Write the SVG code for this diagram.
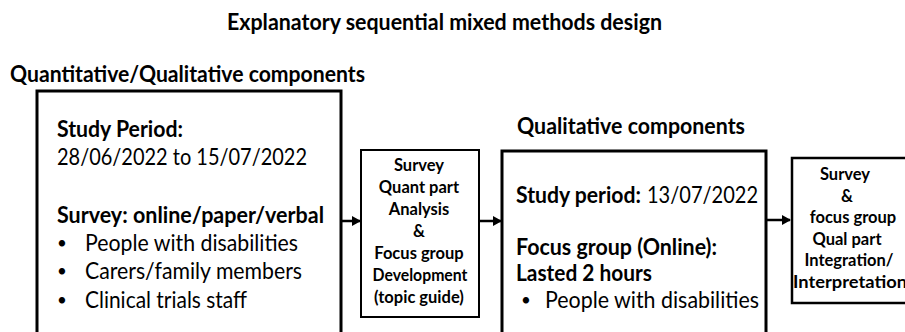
<svg xmlns="http://www.w3.org/2000/svg" width="905" height="332" viewBox="0 0 905 332">
<style>
text{font-family:Lato,"Open Sans","Liberation Sans",sans-serif;fill:#000}
.h{font-weight:bold;font-size:23px}
.b{font-size:23px}
.bb{font-size:23px;font-weight:bold}
.dot{font-size:17px}
.s{font-size:16.5px;font-weight:bold;text-anchor:middle}
.box{fill:#fff;stroke:#000}
.con{stroke:#000;stroke-width:2.5;fill:none}
</style>
<defs>
<marker id="ah" markerWidth="10" markerHeight="10" refX="8" refY="5" orient="auto" markerUnits="userSpaceOnUse">
<path d="M0,0 L9,5 L0,10 Z" fill="#000"/>
</marker>
</defs>
<rect width="905" height="332" fill="#fff"/>
<text class="h" x="227" y="30" textLength="435" lengthAdjust="spacingAndGlyphs">Explanatory sequential mixed methods design</text>
<text class="h" x="10" y="82" textLength="355" lengthAdjust="spacingAndGlyphs">Quantitative/Qualitative components</text>
<text class="h" x="517" y="134" textLength="228" lengthAdjust="spacingAndGlyphs">Qualitative components</text>

<g id="quant">
<rect class="box" x="37" y="91" width="304" height="260" stroke-width="3"/>
<text class="bb" x="57" y="137" textLength="126" lengthAdjust="spacingAndGlyphs">Study Period:</text>
<text class="b" x="57" y="165" textLength="250" lengthAdjust="spacingAndGlyphs">28/06/2022 to 15/07/2022</text>
<text class="bb" x="57" y="223" textLength="267" lengthAdjust="spacingAndGlyphs">Survey: online/paper/verbal</text>
<text class="dot" x="57" y="249">•</text>
<text class="b" x="85" y="251" textLength="213" lengthAdjust="spacingAndGlyphs">People with disabilities</text>
<text class="dot" x="57" y="277">•</text>
<text class="b" x="85" y="279" textLength="217" lengthAdjust="spacingAndGlyphs">Carers/family members</text>
<text class="dot" x="57" y="306">•</text>
<text class="b" x="85" y="308" textLength="162" lengthAdjust="spacingAndGlyphs">Clinical trials staff</text>
</g>

<g id="analysis">
<rect class="box" x="361" y="150" width="118" height="167" stroke-width="2"/>
<text class="s" x="419" y="171">Survey</text>
<text class="s" x="419" y="193">Quant part</text>
<text class="s" x="419" y="215">Analysis</text>
<text class="s" x="419" y="237">&amp;</text>
<text class="s" x="419" y="259">Focus group</text>
<text class="s" x="420" y="281" textLength="95" lengthAdjust="spacingAndGlyphs">Development</text>
<text class="s" x="419" y="303">(topic guide)</text>
</g>

<g id="qual">
<rect class="box" x="502" y="151" width="264" height="200" stroke-width="3"/>
<text class="bb" x="516" y="203" textLength="125" lengthAdjust="spacingAndGlyphs">Study period:</text>
<text class="b" x="647" y="203" textLength="111" lengthAdjust="spacingAndGlyphs">13/07/2022</text>
<text class="bb" x="516" y="255" textLength="201" lengthAdjust="spacingAndGlyphs">Focus group (Online):</text>
<text class="bb" x="516" y="281" textLength="136" lengthAdjust="spacingAndGlyphs">Lasted 2 hours</text>
<text class="dot" x="521" y="306">•</text>
<text class="b" x="545" y="308" textLength="214" lengthAdjust="spacingAndGlyphs">People with disabilities</text>
</g>

<g id="integration">
<rect class="box" x="792" y="158" width="130" height="145" stroke-width="2.5"/>
<text class="s" x="845" y="180">Survey</text>
<text class="s" x="847" y="202">&amp;</text>
<text class="s" x="853" y="223">focus group</text>
<text class="s" x="847" y="245">Qual part</text>
<text class="s" x="849" y="266">Integration/</text>
<text class="s" x="850" y="288" textLength="114" lengthAdjust="spacingAndGlyphs">Interpretation</text>
</g>

<g id="connectors">
<line class="con" x1="342" y1="221" x2="360" y2="221" marker-end="url(#ah)"/>
<line class="con" x1="480" y1="221" x2="501" y2="221" marker-end="url(#ah)"/>
<line class="con" x1="767" y1="220" x2="790" y2="220" marker-end="url(#ah)"/>
</g>
</svg>
